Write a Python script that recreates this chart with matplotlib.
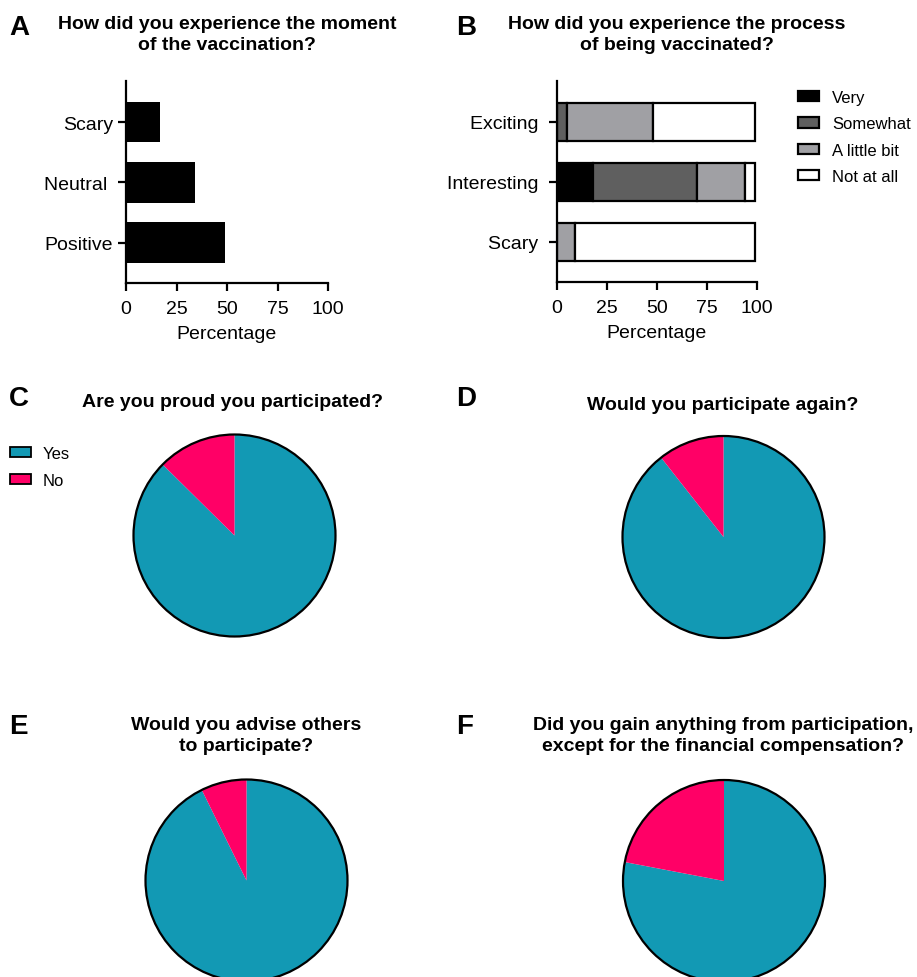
import matplotlib
matplotlib.use("Agg")
import matplotlib.pyplot as plt
from matplotlib.patches import Patch, Circle

plt.rcParams['font.family'] = ['Liberation Sans', 'DejaVu Sans']

# data
a_cats = ["Positive", "Neutral ", "Scary"]
a_vals = [49, 34, 17]

b_cats = ["Scary ", "Interesting ", "Exciting "]
b_levels = ["Very", "Somewhat", "A little bit", "Not at all"]
b_very = [0, 18, 0]
b_somewhat = [0, 52, 5]
b_little = [9, 24, 43]
b_notatall = [90, 5, 51]

pie_labels = ["Yes", "No"]
pie_c = [87.4, 12.6]
pie_d = [89.4, 10.6]
pie_e = [92.7, 7.3]
pie_f = [78, 22]

teal = "#1299b4"
pink = "#ff0066"
grays = ["#000000", "#5f5f5f", "#a0a0a4", "#ffffff"]

W, H = 917, 978
fig = plt.figure(figsize=(W / 100, H / 100), dpi=100)


def px_axes(left, top, right, bottom):
    return fig.add_axes([left / W, 1 - bottom / H, (right - left) / W, (bottom - top) / H])


def ftext(x, y, s, **kw):
    fig.text(x / W, 1 - y / H, s, **kw)


def style_bar_axes(ax):
    for s in ["top", "right"]:
        ax.spines[s].set_visible(False)
    for s in ["left", "bottom"]:
        ax.spines[s].set_linewidth(1.6)
    ax.tick_params(width=1.6, length=6, labelsize=14, colors="black")
    ax.tick_params(axis="x", pad=6)
    ax.set_xlim(0, 100)
    ax.set_xticks([0, 25, 50, 75, 100])
    ax.set_xlabel("Percentage", fontsize=14, labelpad=6)


TS = 14  # title size

# panel letters
for lx, ly, lab in [(9, 28, "A"), (456, 28, "B"), (9, 399, "C"), (456, 399, "D"),
                    (9, 727, "E"), (456, 727, "F")]:
    ftext(lx, ly, lab, fontsize=20, fontweight="bold", ha="left", va="center")

# ---- A
ax = px_axes(126, 82, 328, 284)
ax.barh(range(3), a_vals, height=0.67, color="black")
ax.set_yticks(range(3))
ax.set_yticklabels(a_cats)
ax.set_ylim(-0.67, 2.68)
style_bar_axes(ax)
ftext(227, 35, "How did you experience the moment\nof the vaccination?", fontsize=TS,
      fontweight="bold", ha="center", va="center", linespacing=1.28)

# ---- B
ax = px_axes(557, 82, 757, 283)
left = [0, 0, 0]
series = [b_very, b_somewhat, b_little, b_notatall]
for vals, col, lab in zip(series, grays, b_levels):
    ax.barh(range(3), vals, left=left, height=0.63, color=col, edgecolor="black",
            linewidth=1.6, label=lab)
    left = [l + v for l, v in zip(left, vals)]
ax.set_yticks(range(3))
ax.set_yticklabels(b_cats)
ax.set_ylim(-0.67, 2.68)
style_bar_axes(ax)
ax.legend(loc="upper left", bbox_to_anchor=(798 / W, 1 - 91 / H),
          bbox_transform=fig.transFigure, frameon=False, fontsize=12,
          handlelength=1.25, handleheight=0.6, handletextpad=0.8, labelspacing=0.68,
          borderaxespad=0, borderpad=0)
ftext(677, 35, "How did you experience the process\nof being vaccinated?", fontsize=TS,
      fontweight="bold", ha="center", va="center", linespacing=1.28)


# ---- pies
def draw_pie(cx, cy, r, vals):
    pax = px_axes(cx - r, cy - r, cx + r, cy + r)
    pax.pie(vals, colors=[teal, pink], startangle=90, counterclock=False, radius=1,
            wedgeprops=dict(linewidth=0))
    pax.add_patch(Circle((0, 0), 1, fill=False, edgecolor="black", linewidth=1.6,
                         clip_on=False))
    pax.set_xlim(-1, 1)
    pax.set_ylim(-1, 1)
    pax.set_aspect("equal")
    pax.axis("off")
    return pax


draw_pie(234.5, 536.5, 101, pie_c)
draw_pie(723.5, 538, 101, pie_d)
draw_pie(246.5, 881.5, 101, pie_e)
draw_pie(724, 882, 101, pie_f)

ftext(233, 403, "Are you proud you participated?", fontsize=TS, fontweight="bold",
      ha="center", va="center")
ftext(723, 405, "Would you participate again?", fontsize=TS, fontweight="bold",
      ha="center", va="center")
ftext(246, 736, "Would you advise others\nto participate?", fontsize=TS,
      fontweight="bold", ha="center", va="center", linespacing=1.28)
ftext(723, 736, "Did you gain anything from participation,\nexcept for the financial compensation?",
      fontsize=TS, fontweight="bold", ha="center", va="center", linespacing=1.28)

handles = [Patch(facecolor=teal, edgecolor="black", linewidth=1.3, label=pie_labels[0]),
           Patch(facecolor=pink, edgecolor="black", linewidth=1.3, label=pie_labels[1])]
fig.legend(handles=handles, loc="upper left", bbox_to_anchor=(10 / W, 1 - 447 / H),
           frameon=False, fontsize=12, handlelength=1.25, handleheight=0.6,
           handletextpad=0.7, labelspacing=0.72, borderaxespad=0, borderpad=0)

fig.savefig("out.png", dpi=100, facecolor="white")
